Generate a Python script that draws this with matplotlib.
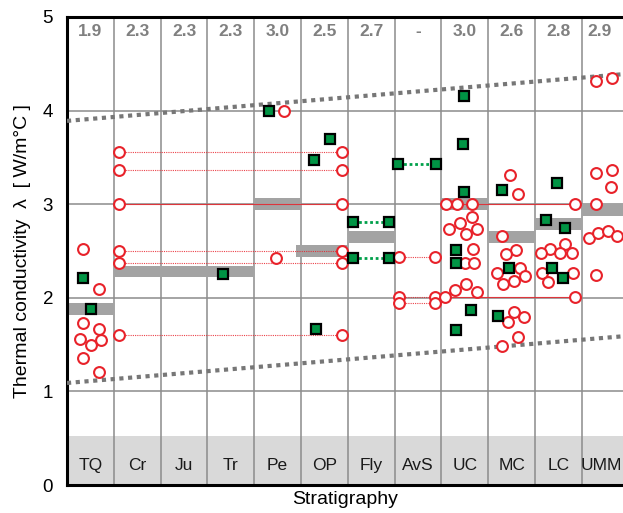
import matplotlib
matplotlib.use("Agg")
import matplotlib.pyplot as plt

plt.rcParams['font.family'] = ['Liberation Sans', 'DejaVu Sans']

# ---------------- data ----------------
units = ['TQ', 'Cr', 'Ju', 'Tr', 'Pe', 'OP', 'Fly', 'AvS', 'UC', 'MC', 'LC', 'UMM']
mean_labels = ['1.9', '2.3', '2.3', '2.3', '3.0', '2.5', '2.7', '-', '3.0', '2.6', '2.8', '2.9']

# mean bars: (x start, x end, value)
bar_x0 = [0.05, 1.0, 4.0, 4.9, 6.0, 8.0, 9.0, 10.0, 11.0]
bar_x1 = [1.0, 4.0, 5.0, 5.98, 7.0, 9.0, 10.0, 11.0, 12.0]
bar_val = [1.88, 2.28, 3.0, 2.5, 2.65, 3.0, 2.65, 2.79, 2.94]

# open red circles (x position along stratigraphy axis, conductivity)
circ_x = [0.34, 0.68, 0.335, 0.68, 0.28, 0.51, 0.73, 0.335, 0.68,            # TQ
          1.12, 1.12, 1.12, 1.12, 1.12, 1.12,                                   # Cr
          4.63, 4.47,                                                           # Pe
          5.87, 5.87, 5.87, 5.87, 5.87, 5.87,                                   # OP
          7.09, 7.09, 7.09, 7.86, 7.86, 7.86,                                   # AvS
          8.10, 8.33, 8.65, 8.66, 8.39, 8.75, 8.16, 8.53, 8.67, 8.51, 8.70,
          8.52, 8.28, 8.76, 8.08,                                               # UC
          9.47, 9.63, 9.29, 9.60, 9.37, 9.69, 9.19, 9.79, 9.55, 9.32, 9.55,
          9.77, 9.43, 9.64, 9.30,                                               # MC
          10.86, 10.64, 10.31, 10.12, 10.53, 10.78, 10.14, 10.81, 10.28, 10.86,  # LC
          11.30, 11.64, 11.30, 11.64, 11.63, 11.30, 11.15, 11.35, 11.57, 11.76,
          11.30]                                                                # UMM
circ_y = [2.52, 2.09, 1.73, 1.67, 1.56, 1.50, 1.55, 1.36, 1.21,
          3.56, 3.37, 3.00, 2.50, 2.37, 1.60,
          4.00, 2.42,
          3.56, 3.37, 3.00, 2.50, 2.37, 1.60,
          2.44, 2.01, 1.94, 2.44, 2.01, 1.94,
          3.00, 3.00, 3.00, 2.86, 2.80, 2.74, 2.73, 2.68, 2.52, 2.375, 2.375,
          2.15, 2.08, 2.06, 2.01,
          3.31, 3.11, 2.66, 2.51, 2.47, 2.315, 2.27, 2.23, 2.18, 2.15, 1.845,
          1.79, 1.74, 1.58, 1.49,
          3.00, 2.57, 2.52, 2.48, 2.48, 2.48, 2.27, 2.265, 2.17, 2.01,
          4.32, 4.345, 3.33, 3.37, 3.18, 3.00, 2.635, 2.69, 2.71, 2.66,
          2.24]

# green squares
sq_x = [0.34, 0.51,
        3.33,
        4.32,
        5.63, 5.28, 5.33,
        6.11, 6.88, 6.11, 6.88,
        7.08, 7.88,
        8.48, 8.47, 8.48, 8.32, 8.32, 8.64, 8.31,
        9.30, 9.45, 9.22,
        10.47, 10.24, 10.64, 10.36, 10.60]
sq_y = [2.21, 1.88,
        2.25,
        4.00,
        3.70, 3.47, 1.67,
        2.81, 2.81, 2.42, 2.42,
        3.43, 3.43,
        4.16, 3.64, 3.13, 2.51, 2.37, 1.87, 1.66,
        3.155, 2.32, 1.805,
        3.23, 2.83, 2.75, 2.315, 2.21]

# red connector lines: (x start, x end, value, solid?)
red_x0 = [1.12, 1.12, 1.12, 1.12, 1.12, 1.12, 8.10, 7.09, 7.09, 7.09, 8.08]
red_x1 = [5.87, 5.87, 5.87, 5.87, 5.87, 5.87, 10.86, 7.86, 7.86, 7.86, 10.86]
red_y = [3.56, 3.37, 3.00, 2.50, 2.37, 1.60, 3.00, 2.44, 2.01, 1.94, 2.01]
red_solid = [False, False, True, False, False, False, True, False, False, False, True]

# green connector lines
grn_x0 = [6.11, 6.11, 7.08]
grn_x1 = [6.88, 6.88, 7.88]
grn_y = [2.81, 2.42, 3.43]

# regression envelope (dotted grey)
trend_x = [0.0, 12.0]
trend_upper = [3.89, 4.394]
trend_lower = [1.09, 1.594]

# ---------------- figure ----------------
fig = plt.figure(figsize=(6.23, 5.13), dpi=100)
ax = fig.add_axes([67 / 623, 1 - 485 / 513, 561.6 / 623, 468 / 513])
ax.set_xlim(0, 12)
ax.set_ylim(0, 5)

# bottom label band
ax.axhspan(0, 0.52, color='#d9d9d9', zorder=0, lw=0)

# grid
gcol = '#8c8c8c'
for i in range(1, 12):
    ax.axvline(i, color=gcol, lw=1.1, zorder=1)
for v in [1, 2, 3, 4]:
    ax.axhline(v, color=gcol, lw=1.1, zorder=1)

# mean bars
for x0, x1, v in zip(bar_x0, bar_x1, bar_val):
    ax.fill_between([x0, x1], v - 0.062, v + 0.062, color='#a3a3a3', lw=0, zorder=2)

# trend lines
for ty in (trend_upper, trend_lower):
    ax.plot(trend_x, ty, color='#777777', lw=3.0, linestyle=(0, (1, 1.1)),
            dash_capstyle='butt', zorder=3)

# connectors
for x0, x1, v, s in zip(red_x0, red_x1, red_y, red_solid):
    ax.plot([x0, x1], [v, v], color='#e8222a', lw=0.8,
            linestyle='-' if s else (0, (1, 1)), zorder=3, alpha=0.85)
for x0, x1, v in zip(grn_x0, grn_x1, grn_y):
    ax.plot([x0, x1], [v, v], color='#00a04a', lw=2.0, linestyle=(0, (1, 1)), zorder=3)

# markers
ax.plot(circ_x, circ_y, 'o', ms=7.8, mfc='white', mec='#e8222a', mew=1.5, zorder=5, ls='none')
ax.plot(sq_x, sq_y, 's', ms=7.6, mfc='#009444', mec='black', mew=1.6, zorder=6, ls='none')

# column labels
for i, (u, m) in enumerate(zip(units, mean_labels)):
    xc = i + 0.5 if i < 11 else 11.42
    ax.text(xc, 0.21, u, ha='center', va='center', fontsize=12.5, color='#1a1a1a', zorder=7)
    xm = i + 0.5 if i < 11 else 11.38
    ax.text(xm, 4.84, m, ha='center', va='center', fontsize=12.5, fontweight='bold',
            color='#808080', zorder=7)

# axes styling
ax.set_xticks([])
ax.set_yticks([0, 1, 2, 3, 4, 5])
ax.set_yticklabels(['0', '1', '2', '3', '4', '5'], fontsize=13.5)
ax.tick_params(axis='y', length=0, pad=10)
for s in ['left', 'bottom', 'top']:
    ax.spines[s].set_linewidth(2.2)
    ax.spines[s].set_color('black')
ax.spines['right'].set_visible(False)

ax.set_ylabel('Thermal conductivity  λ  [ W/m°C ]', fontsize=14, labelpad=8)
fig.text(345 / 623, 1 - 500 / 513, 'Stratigraphy', ha='center', va='center', fontsize=14)

fig.savefig('out.png', dpi=100)
